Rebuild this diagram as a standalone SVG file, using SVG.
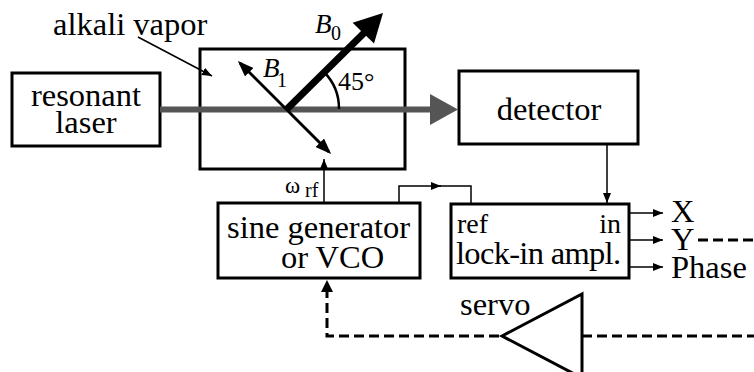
<svg xmlns="http://www.w3.org/2000/svg" width="754" height="372" viewBox="0 0 754 372" font-family="'Liberation Serif', 'DejaVu Serif', serif">
<defs>
<style>
text{font-family:"Liberation Serif","DejaVu Serif",serif;fill:#000}
.t{font-size:32.5px}
.m{font-size:28px}
.it{font-size:27px;font-style:italic}
.sub{font-size:20px;font-style:normal}
.box{fill:#fff;stroke:#000;stroke-width:3}
.thin{fill:none;stroke:#000;stroke-width:1.5}
.dash{fill:none;stroke:#000;stroke-width:3;stroke-dasharray:10 5}
</style>
<marker id="sa" markerUnits="userSpaceOnUse" viewBox="0 0 10 8" refX="10" refY="4" markerWidth="10" markerHeight="8" orient="auto"><path d="M0,0 L10,4 L0,8 z" fill="#000"/></marker>
<marker id="ma" markerUnits="userSpaceOnUse" viewBox="0 0 16 12" refX="13" refY="6" markerWidth="16" markerHeight="12" orient="auto-start-reverse"><path d="M0,0 L16,6 L0,12 z" fill="#000"/></marker>
</defs>
<rect width="754" height="372" fill="#fff"/>

<g id="laser">
<rect class="box" x="12" y="73" width="148" height="73"/>
<text class="t" x="86" y="106" text-anchor="middle">resonant</text>
<text class="t" x="86" y="133" text-anchor="middle">laser</text>
</g>

<g id="cell">
<rect class="box" x="200" y="49" width="205" height="120"/>
<text class="t" x="53" y="35">alkali vapor</text>
</g>

<g id="detector">
<rect class="box" x="459" y="71" width="179" height="73"/>
<text class="t" x="549" y="120" text-anchor="middle">detector</text>
</g>

<g id="sinegen">
<rect class="box" x="218" y="203" width="202" height="75"/>
<text class="t" x="227" y="238">sine generator</text>
<text class="t" x="281" y="268">or VCO</text>
</g>

<g id="lockin">
<rect class="box" x="451" y="204" width="178" height="74"/>
<text class="m" x="457" y="233">ref</text>
<text class="m" x="621" y="233" text-anchor="end">in</text>
<text class="t" x="456" y="264" textLength="165">lock-in ampl.</text>
</g>

<g id="servo">
<polygon points="502,336 582,294 582,378" fill="#fff" stroke="#000" stroke-width="3" stroke-linejoin="miter"/>
<text class="t" x="460" y="315">servo</text>
</g>

<g id="outputs">
<text class="t" x="671" y="222">X</text>
<text class="t" x="671" y="250">Y</text>
<text class="t" x="671" y="278">Phase</text>
</g>

<g id="connectors">
<line x1="160" y1="109.5" x2="432" y2="109.5" stroke="#555" stroke-width="6"/>
<polygon points="430,94 458,109.5 430,125" fill="#555"/>
<line class="thin" x1="138" y1="37" x2="212" y2="76" marker-end="url(#sa)"/>
<line class="thin" x1="607" y1="144" x2="607" y2="203" marker-end="url(#sa)"/>
<path class="thin" d="M399,203 V186 H441" marker-end="url(#sa)"/>
<path class="thin" d="M436,186 H471 V204"/>
<line class="thin" x1="324" y1="203" x2="324" y2="159" marker-end="url(#sa)"/>
<line class="thin" x1="629" y1="213" x2="663" y2="213" marker-end="url(#sa)"/>
<line class="thin" x1="629" y1="240" x2="663" y2="240" marker-end="url(#sa)"/>
<line class="thin" x1="629" y1="267" x2="663" y2="267" marker-end="url(#sa)"/>
<path class="dash" d="M698,240 H754"/>
<path class="dash" d="M582,336 H754"/>
<path class="dash" d="M499,336 H327 V285"/>
<path d="M321,292 L327,280 L333,292 z" fill="#000"/>
<text x="285" y="193" style="font-size:23px">ω</text>
<text x="305" y="197" style="font-size:20px">rf</text>
</g>

<g id="fields">
<line x1="287" y1="109" x2="365" y2="32" stroke="#000" stroke-width="7"/>
<polygon points="383,13 352.6,22.7 374,43.5" fill="#000"/>
<line x1="240" y1="63" x2="329" y2="152" stroke="#000" stroke-width="3" marker-start="url(#ma)" marker-end="url(#ma)"/>
<path d="M339,109 A52,52 0 0 0 324,72" fill="none" stroke="#000" stroke-width="2.5"/>
<text class="it" x="315" y="33">B</text>
<text class="sub" x="331" y="40">0</text>
<text class="it" x="263" y="77">B</text>
<text class="sub" x="277" y="87">1</text>
<text class="m" x="338" y="90" style="font-size:26px">45°</text>
</g>
</svg>
